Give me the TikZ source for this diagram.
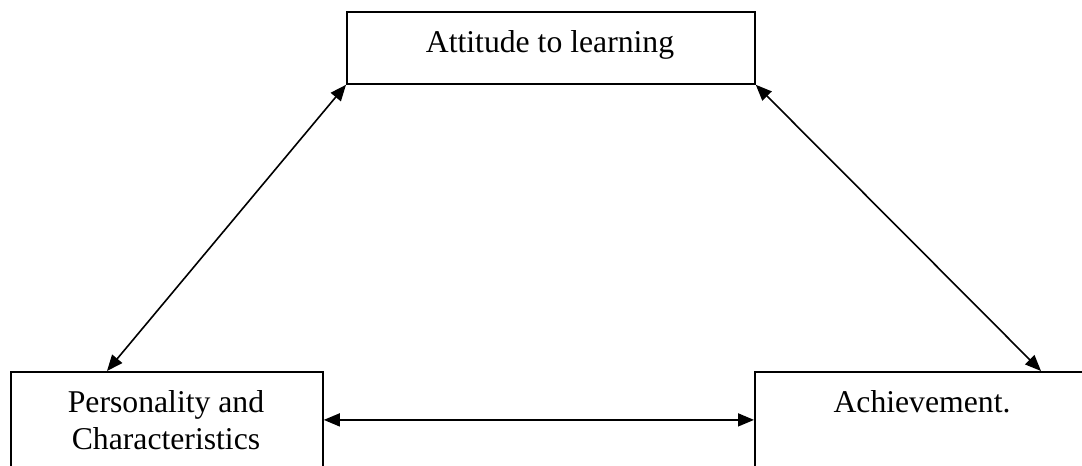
\documentclass[tikz,border=0pt]{standalone}
\usepackage{fontspec}
\setmainfont{Liberation Serif}
\usetikzlibrary{arrows.meta}
\begin{document}
\begin{tikzpicture}[x=1pt,y=-1pt,
  box/.style={draw=black,line width=1.8pt,rectangle,inner sep=0pt,anchor=north west},
  lbl/.style={anchor=base,inner sep=0pt,font=\fontsize{31.7pt}{36.5pt}\selectfont},
  link/.style={line width=1.6pt,{Triangle[length=16pt,width=13pt]}-{Triangle[length=16pt,width=13pt]},shorten <=0pt,shorten >=0pt}]
\useasboundingbox (0,0) rectangle (1082,466);
\fill[white] (0,0) rectangle (1082,466);
\clip (0,0) rectangle (1082,466);
\node[box,minimum width=408pt,minimum height=72pt] (T) at (346,11) {};
\node[box,minimum width=312pt,minimum height=160pt] (L) at (10,371) {};
\node[box,minimum width=340pt,minimum height=160pt] (R) at (754,371) {};
\node[lbl] (tT) at (550,52) {Attitude to learning};
\node[lbl] (tL1) at (166,412) {Personality and};
\node[lbl] (tL2) at (166,449) {Characteristics};
\node[lbl] (tR) at (922,412) {Achievement.};
\draw[link] (T.south west) -- ([xshift=97pt]L.north west);
\draw[link] (T.south east) -- ([xshift=287pt]R.north west);
\draw[link] ([yshift=32pt]L.east) -- ([yshift=32pt]R.west);
\end{tikzpicture}
\end{document}
